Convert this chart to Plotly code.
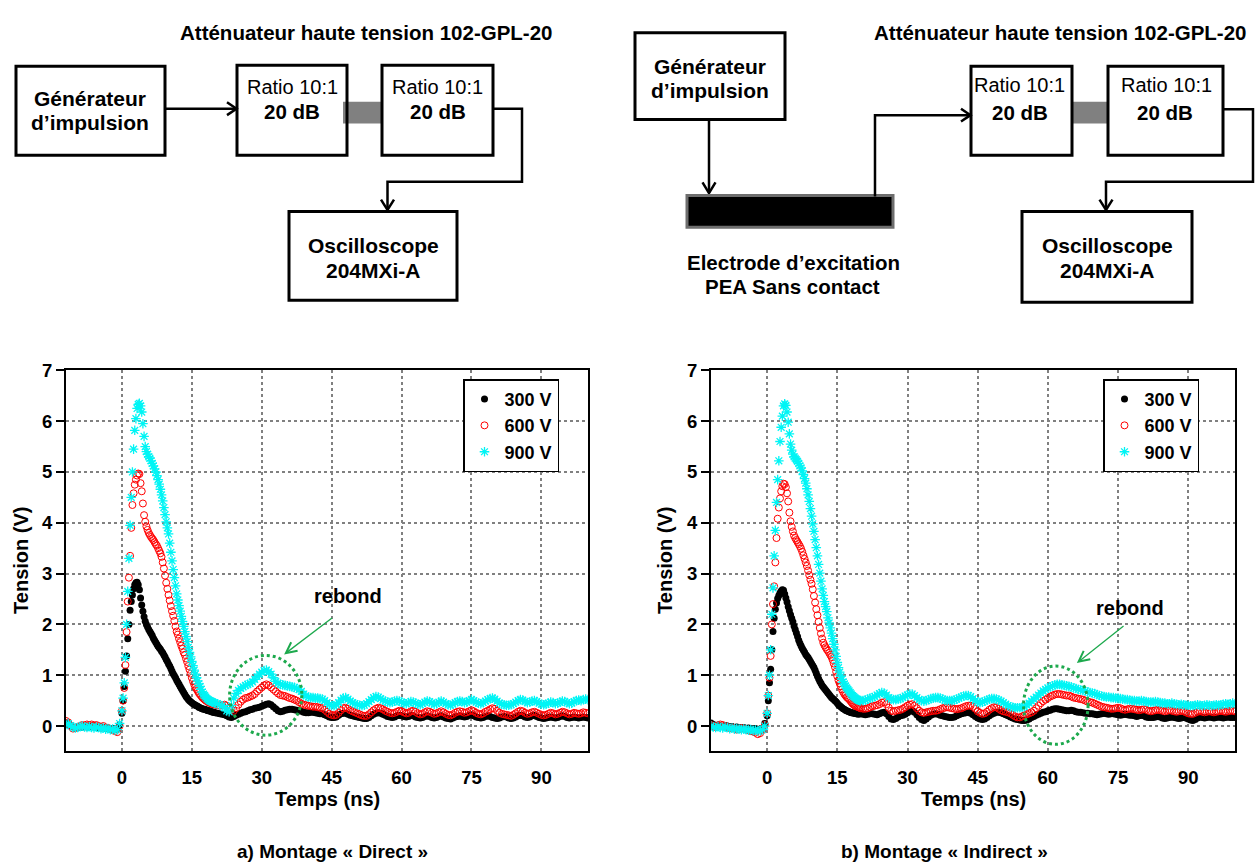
import plotly.graph_objects as go

W, H = 1260, 863
FONT = "Liberation Sans, Arial, sans-serif"

# ---------------- DATA ----------------
# time base (ns): pre-trigger (0.5 ns), pulse (0.25 ns), tail (0.5 ns)
TIME_PRE = [round(-12 + 0.5 * i, 2) for i in range(24)]
TIME_PULSE = [round(0.25 * i, 2) for i in range(80)]
TIME_TAIL = [round(20 + 0.5 * i, 2) for i in range(161)]
TIME = TIME_PRE + TIME_PULSE + TIME_TAIL

SERIES_NAMES = ["300 V", "600 V", "900 V"]

# ---- a) Montage "Direct" ----
D300_PRE = [0.05, 0.03, 0.00, -0.02, -0.03, -0.02, -0.03, -0.02, -0.01, -0.02,
            0.00, -0.01, -0.02, -0.03, -0.02, -0.04, -0.03, -0.05, -0.04, -0.06,
            -0.05, -0.07, -0.06, 0.02]
D300_PULSE = [0.25, 0.50, 0.78, 1.08, 1.38, 1.72, 2.00, 2.28, 2.45, 2.58,
              2.70, 2.78, 2.82, 2.83, 2.78, 2.68, 2.52, 2.38, 2.26, 2.15,
              2.06, 2.00, 1.95, 1.90, 1.86, 1.82, 1.78, 1.73, 1.69, 1.65,
              1.61, 1.57, 1.54, 1.51, 1.47, 1.44, 1.40, 1.36, 1.31, 1.27,
              1.22, 1.18, 1.13, 1.08, 1.03, 0.99, 0.95, 0.90, 0.86, 0.82,
              0.78, 0.74, 0.70, 0.66, 0.62, 0.58, 0.55, 0.52, 0.50, 0.48,
              0.46, 0.44, 0.43, 0.41, 0.40, 0.39, 0.37, 0.36, 0.35, 0.34,
              0.33, 0.33, 0.32, 0.31, 0.30, 0.30, 0.29, 0.28, 0.27, 0.27]
D300_TAIL = [0.26, 0.25, 0.24, 0.23, 0.22, 0.20, 0.18, 0.17, 0.19, 0.21,
             0.23, 0.25, 0.27, 0.28, 0.30, 0.32, 0.33, 0.35, 0.36, 0.37,
             0.39, 0.41, 0.43, 0.44, 0.42, 0.38, 0.34, 0.30, 0.28, 0.29,
             0.31, 0.32, 0.33, 0.33, 0.32, 0.31, 0.30, 0.29, 0.27, 0.26,
             0.26, 0.27, 0.27, 0.26, 0.25, 0.24, 0.24, 0.22, 0.20, 0.18,
             0.17, 0.17, 0.18, 0.21, 0.24, 0.25, 0.25, 0.23, 0.21, 0.20,
             0.19, 0.18, 0.17, 0.16, 0.15, 0.15, 0.17, 0.20, 0.23, 0.25,
             0.26, 0.25, 0.23, 0.21, 0.19, 0.18, 0.17, 0.18, 0.20, 0.21,
             0.20, 0.19, 0.18, 0.19, 0.21, 0.20, 0.18, 0.17, 0.16, 0.17,
             0.19, 0.20, 0.19, 0.17, 0.16, 0.17, 0.19, 0.20, 0.18, 0.16,
             0.15, 0.14, 0.16, 0.18, 0.19, 0.20, 0.19, 0.18, 0.19, 0.21,
             0.22, 0.20, 0.18, 0.17, 0.16, 0.17, 0.19, 0.20, 0.19, 0.17,
             0.16, 0.15, 0.16, 0.18, 0.19, 0.18, 0.16, 0.15, 0.16, 0.18,
             0.20, 0.21, 0.20, 0.18, 0.17, 0.18, 0.20, 0.21, 0.19, 0.17,
             0.16, 0.15, 0.16, 0.17, 0.18, 0.17, 0.16, 0.17, 0.19, 0.20,
             0.19, 0.17, 0.16, 0.17, 0.18, 0.17, 0.16, 0.17, 0.18, 0.17,
             0.16]

D600_PRE = [0.10, 0.07, 0.00, -0.05, -0.04, -0.02, 0.00, 0.02, 0.01, 0.03,
            0.02, 0.03, 0.01, 0.02, 0.00, -0.02, 0.00, -0.03, -0.04, -0.06,
            -0.08, -0.10, -0.12, 0.00]
D600_PULSE = [0.30, 0.50, 0.75, 1.20, 1.85, 2.45, 2.92, 3.35, 3.90, 4.35,
              4.58, 4.75, 4.85, 4.93, 4.97, 4.96, 4.78, 4.62, 4.38, 4.15,
              4.02, 3.93, 3.86, 3.80, 3.76, 3.72, 3.69, 3.66, 3.62, 3.58,
              3.55, 3.50, 3.45, 3.40, 3.33, 3.22, 3.10, 2.96, 2.82, 2.70,
              2.58, 2.47, 2.36, 2.26, 2.17, 2.07, 1.96, 1.86, 1.80, 1.72,
              1.65, 1.58, 1.52, 1.45, 1.40, 1.33, 1.26, 1.18, 1.11, 1.03,
              0.95, 0.88, 0.82, 0.77, 0.73, 0.69, 0.65, 0.62, 0.59, 0.56,
              0.54, 0.52, 0.50, 0.49, 0.47, 0.46, 0.45, 0.44, 0.43, 0.43]
D600_TAIL = [0.42, 0.41, 0.40, 0.41, 0.42, 0.40, 0.36, 0.32, 0.30, 0.35,
             0.42, 0.48, 0.52, 0.55, 0.56, 0.58, 0.60, 0.63, 0.68, 0.72,
             0.76, 0.80, 0.82, 0.80, 0.76, 0.72, 0.68, 0.64, 0.61, 0.60,
             0.59, 0.57, 0.55, 0.54, 0.52, 0.50, 0.47, 0.44, 0.42, 0.41,
             0.40, 0.39, 0.38, 0.38, 0.37, 0.36, 0.35, 0.32, 0.28, 0.24,
             0.22, 0.21, 0.22, 0.26, 0.31, 0.35, 0.36, 0.34, 0.31, 0.29,
             0.27, 0.25, 0.23, 0.21, 0.20, 0.20, 0.23, 0.27, 0.31, 0.34,
             0.36, 0.35, 0.33, 0.30, 0.28, 0.26, 0.25, 0.26, 0.28, 0.30,
             0.29, 0.27, 0.25, 0.26, 0.29, 0.30, 0.28, 0.25, 0.23, 0.24,
             0.27, 0.29, 0.28, 0.26, 0.24, 0.25, 0.27, 0.29, 0.27, 0.24,
             0.22, 0.21, 0.23, 0.26, 0.28, 0.29, 0.28, 0.26, 0.27, 0.29,
             0.31, 0.29, 0.26, 0.24, 0.23, 0.25, 0.28, 0.30, 0.33, 0.35,
             0.34, 0.30, 0.26, 0.24, 0.23, 0.22, 0.21, 0.20, 0.22, 0.25,
             0.28, 0.30, 0.29, 0.26, 0.24, 0.25, 0.27, 0.28, 0.26, 0.24,
             0.22, 0.21, 0.22, 0.24, 0.26, 0.25, 0.23, 0.24, 0.26, 0.28,
             0.27, 0.25, 0.23, 0.24, 0.26, 0.25, 0.24, 0.25, 0.27, 0.26,
             0.25]

D900_PRE = [0.03, 0.05, 0.01, -0.02, -0.04, -0.03, -0.01, 0.00, -0.02, -0.03,
            -0.01, -0.03, -0.04, -0.02, -0.03, -0.05, -0.04, -0.06, -0.05, -0.07,
            -0.06, -0.08, -0.07, 0.05]
D900_PULSE = [0.30, 0.55, 0.85, 1.35, 2.00, 2.65, 3.30, 3.95, 4.50, 5.00,
              5.45, 5.82, 6.05, 6.25, 6.33, 6.35, 6.30, 6.18, 5.95, 5.70,
              5.50, 5.40, 5.35, 5.30, 5.27, 5.22, 5.17, 5.12, 5.06, 5.00,
              4.93, 4.85, 4.76, 4.66, 4.55, 4.43, 4.30, 4.16, 4.02, 3.90,
              3.78, 3.60, 3.42, 3.25, 3.08, 2.92, 2.76, 2.60, 2.48, 2.37,
              2.26, 2.16, 2.06, 1.96, 1.86, 1.76, 1.66, 1.55, 1.45, 1.36,
              1.27, 1.19, 1.10, 1.02, 0.95, 0.89, 0.83, 0.78, 0.72, 0.67,
              0.63, 0.60, 0.57, 0.54, 0.52, 0.50, 0.49, 0.48, 0.47, 0.46]
D900_TAIL = [0.45, 0.44, 0.42, 0.40, 0.36, 0.30, 0.28, 0.40, 0.55, 0.64,
             0.70, 0.74, 0.77, 0.80, 0.82, 0.84, 0.87, 0.92, 0.97, 1.02,
             1.06, 1.09, 1.10, 1.07, 1.02, 0.95, 0.88, 0.84, 0.82, 0.81,
             0.80, 0.79, 0.78, 0.77, 0.76, 0.74, 0.72, 0.68, 0.63, 0.59,
             0.57, 0.56, 0.56, 0.55, 0.55, 0.54, 0.53, 0.50, 0.46, 0.42,
             0.40, 0.40, 0.42, 0.46, 0.51, 0.55, 0.56, 0.53, 0.49, 0.46,
             0.44, 0.42, 0.41, 0.40, 0.41, 0.44, 0.48, 0.52, 0.56, 0.58,
             0.57, 0.54, 0.51, 0.49, 0.47, 0.46, 0.47, 0.49, 0.50, 0.49,
             0.47, 0.45, 0.44, 0.46, 0.48, 0.47, 0.45, 0.43, 0.42, 0.44,
             0.47, 0.49, 0.48, 0.45, 0.43, 0.44, 0.47, 0.49, 0.47, 0.44,
             0.42, 0.41, 0.43, 0.46, 0.48, 0.49, 0.48, 0.46, 0.47, 0.50,
             0.52, 0.50, 0.47, 0.45, 0.44, 0.46, 0.49, 0.52, 0.54, 0.55,
             0.53, 0.49, 0.45, 0.43, 0.42, 0.41, 0.41, 0.42, 0.44, 0.47,
             0.50, 0.52, 0.51, 0.48, 0.46, 0.47, 0.49, 0.50, 0.48, 0.45,
             0.43, 0.42, 0.43, 0.45, 0.47, 0.46, 0.44, 0.45, 0.47, 0.49,
             0.48, 0.46, 0.44, 0.45, 0.48, 0.50, 0.51, 0.50, 0.52, 0.53,
             0.52]

# ---- b) Montage "Indirect" ----
I300_PRE = [0.06, 0.03, 0.01, 0.02, 0.00, -0.01, 0.01, 0.00, -0.02, -0.01,
            -0.03, -0.02, -0.03, -0.04, -0.03, -0.05, -0.04, -0.05, -0.06, -0.05,
            -0.07, -0.06, -0.05, 0.05]
I300_PULSE = [0.20, 0.50, 0.85, 1.12, 1.50, 1.86, 2.12, 2.30, 2.42, 2.51,
              2.57, 2.62, 2.66, 2.68, 2.67, 2.60, 2.52, 2.44, 2.35, 2.27,
              2.19, 2.12, 2.05, 1.97, 1.90, 1.83, 1.76, 1.69, 1.63, 1.58,
              1.53, 1.49, 1.45, 1.41, 1.38, 1.35, 1.31, 1.27, 1.23, 1.19,
              1.15, 1.10, 1.04, 0.98, 0.93, 0.88, 0.84, 0.80, 0.77, 0.74,
              0.71, 0.68, 0.65, 0.62, 0.59, 0.56, 0.54, 0.52, 0.50, 0.48,
              0.45, 0.42, 0.40, 0.38, 0.36, 0.34, 0.33, 0.31, 0.30, 0.29,
              0.28, 0.27, 0.26, 0.26, 0.25, 0.25, 0.24, 0.24, 0.23, 0.24]
I300_TAIL = [0.24, 0.23, 0.22, 0.23, 0.24, 0.24, 0.23, 0.22, 0.24, 0.26,
             0.27, 0.24, 0.19, 0.14, 0.13, 0.15, 0.18, 0.20, 0.21, 0.23,
             0.26, 0.29, 0.30, 0.27, 0.22, 0.17, 0.13, 0.11, 0.14, 0.18,
             0.21, 0.23, 0.24, 0.23, 0.21, 0.20, 0.19, 0.18, 0.17, 0.17,
             0.18, 0.20, 0.22, 0.24, 0.25, 0.26, 0.27, 0.25, 0.22, 0.19,
             0.16, 0.14, 0.13, 0.14, 0.17, 0.20, 0.23, 0.25, 0.27, 0.27,
             0.26, 0.24, 0.22, 0.20, 0.18, 0.16, 0.14, 0.13, 0.12, 0.11,
             0.11, 0.12, 0.14, 0.17, 0.19, 0.21, 0.23, 0.25, 0.27, 0.28,
             0.30, 0.31, 0.33, 0.34, 0.34, 0.33, 0.32, 0.31, 0.30, 0.30,
             0.31, 0.30, 0.28, 0.27, 0.27, 0.26, 0.25, 0.25, 0.24, 0.24,
             0.23, 0.22, 0.23, 0.24, 0.25, 0.24, 0.23, 0.24, 0.24, 0.23,
             0.22, 0.21, 0.22, 0.23, 0.22, 0.21, 0.21, 0.20, 0.19, 0.20,
             0.21, 0.20, 0.18, 0.17, 0.17, 0.17, 0.18, 0.19, 0.18, 0.16,
             0.15, 0.16, 0.17, 0.18, 0.17, 0.16, 0.15, 0.16, 0.17, 0.16,
             0.14, 0.12, 0.11, 0.13, 0.16, 0.18, 0.17, 0.16, 0.17, 0.18,
             0.17, 0.16, 0.17, 0.18, 0.17, 0.16, 0.17, 0.18, 0.17, 0.17,
             0.17]

I600_PRE = [0.02, 0.00, -0.02, 0.01, 0.03, 0.02, 0.00, -0.02, -0.04, -0.03,
            -0.05, -0.07, -0.06, -0.04, -0.05, -0.07, -0.08, -0.10, -0.11, -0.13,
            -0.16, -0.14, -0.08, 0.02]
I600_PULSE = [0.25, 0.60, 0.95, 1.38, 2.00, 2.40, 2.75, 3.22, 3.70, 4.08,
              4.30, 4.48, 4.62, 4.72, 4.77, 4.76, 4.70, 4.58, 4.42, 4.20,
              4.03, 3.92, 3.83, 3.75, 3.70, 3.66, 3.62, 3.58, 3.54, 3.49,
              3.43, 3.36, 3.29, 3.22, 3.15, 3.06, 2.97, 2.88, 2.80, 2.69,
              2.56, 2.43, 2.30, 2.18, 2.05, 1.93, 1.82, 1.72, 1.64, 1.59,
              1.55, 1.51, 1.48, 1.44, 1.40, 1.36, 1.30, 1.23, 1.16, 1.07,
              0.98, 0.90, 0.84, 0.78, 0.72, 0.67, 0.63, 0.60, 0.57, 0.55,
              0.53, 0.50, 0.47, 0.44, 0.42, 0.40, 0.39, 0.38, 0.37, 0.36]
I600_TAIL = [0.35, 0.34, 0.34, 0.35, 0.37, 0.39, 0.40, 0.41, 0.43, 0.46,
             0.47, 0.43, 0.36, 0.30, 0.29, 0.30, 0.31, 0.32, 0.34, 0.37,
             0.40, 0.42, 0.43, 0.40, 0.35, 0.30, 0.27, 0.26, 0.27, 0.28,
             0.29, 0.30, 0.30, 0.31, 0.33, 0.35, 0.36, 0.37, 0.36, 0.35,
             0.34, 0.33, 0.34, 0.35, 0.37, 0.39, 0.40, 0.40, 0.38, 0.34,
             0.29, 0.26, 0.24, 0.25, 0.28, 0.32, 0.35, 0.37, 0.37, 0.34,
             0.31, 0.29, 0.28, 0.27, 0.25, 0.22, 0.19, 0.17, 0.17, 0.19,
             0.21, 0.23, 0.25, 0.27, 0.30, 0.35, 0.40, 0.45, 0.49, 0.52,
             0.55, 0.58, 0.60, 0.62, 0.63, 0.63, 0.62, 0.61, 0.60, 0.60,
             0.58, 0.56, 0.55, 0.54, 0.53, 0.52, 0.50, 0.48, 0.47, 0.46,
             0.44, 0.42, 0.40, 0.38, 0.37, 0.36, 0.35, 0.34, 0.34, 0.35,
             0.36, 0.35, 0.33, 0.32, 0.33, 0.34, 0.34, 0.33, 0.32, 0.31,
             0.32, 0.33, 0.32, 0.30, 0.29, 0.30, 0.31, 0.32, 0.31, 0.30,
             0.29, 0.30, 0.31, 0.30, 0.29, 0.28, 0.29, 0.30, 0.29, 0.27,
             0.25, 0.24, 0.24, 0.26, 0.28, 0.29, 0.28, 0.27, 0.28, 0.29,
             0.28, 0.27, 0.28, 0.29, 0.30, 0.29, 0.28, 0.29, 0.30, 0.30,
             0.29]

I900_PRE = [0.00, -0.02, -0.03, -0.01, -0.03, -0.04, -0.02, -0.03, -0.05, -0.04,
            -0.06, -0.05, -0.06, -0.07, -0.06, -0.07, -0.08, -0.07, -0.09, -0.08,
            -0.10, -0.09, -0.07, 0.00]
I900_PULSE = [0.25, 0.60, 1.00, 1.50, 2.20, 2.72, 3.35, 3.85, 4.40, 4.85,
              5.22, 5.60, 5.88, 6.10, 6.30, 6.34, 6.31, 6.18, 5.98, 5.75,
              5.55, 5.43, 5.35, 5.30, 5.27, 5.24, 5.21, 5.17, 5.12, 5.08,
              5.02, 4.95, 4.87, 4.78, 4.67, 4.55, 4.42, 4.28, 4.13, 3.98,
              3.83, 3.67, 3.51, 3.35, 3.18, 3.01, 2.85, 2.70, 2.57, 2.45,
              2.35, 2.25, 2.13, 2.03, 1.93, 1.83, 1.72, 1.61, 1.50, 1.37,
              1.25, 1.15, 1.06, 0.98, 0.92, 0.87, 0.83, 0.79, 0.75, 0.72,
              0.69, 0.66, 0.63, 0.60, 0.58, 0.56, 0.54, 0.52, 0.51, 0.50]
I900_TAIL = [0.50, 0.50, 0.51, 0.53, 0.55, 0.56, 0.58, 0.61, 0.64, 0.66,
             0.65, 0.61, 0.56, 0.53, 0.52, 0.52, 0.53, 0.54, 0.56, 0.59,
             0.61, 0.63, 0.63, 0.60, 0.56, 0.52, 0.50, 0.49, 0.50, 0.52,
             0.54, 0.55, 0.56, 0.56, 0.55, 0.53, 0.51, 0.50, 0.50, 0.50,
             0.51, 0.53, 0.55, 0.57, 0.59, 0.60, 0.60, 0.58, 0.54, 0.50,
             0.47, 0.46, 0.47, 0.49, 0.51, 0.53, 0.54, 0.54, 0.53, 0.51,
             0.49, 0.46, 0.43, 0.40, 0.38, 0.37, 0.36, 0.36, 0.36, 0.37,
             0.38, 0.41, 0.45, 0.49, 0.53, 0.57, 0.61, 0.65, 0.69, 0.72,
             0.75, 0.77, 0.79, 0.81, 0.82, 0.82, 0.81, 0.80, 0.79, 0.78,
             0.77, 0.75, 0.74, 0.72, 0.71, 0.70, 0.69, 0.67, 0.66, 0.65,
             0.64, 0.62, 0.60, 0.59, 0.58, 0.57, 0.57, 0.56, 0.56, 0.55,
             0.55, 0.54, 0.53, 0.52, 0.52, 0.51, 0.50, 0.50, 0.49, 0.49,
             0.50, 0.49, 0.48, 0.47, 0.47, 0.47, 0.48, 0.47, 0.46, 0.45,
             0.45, 0.44, 0.44, 0.45, 0.44, 0.43, 0.42, 0.43, 0.42, 0.41,
             0.41, 0.40, 0.40, 0.41, 0.42, 0.41, 0.40, 0.41, 0.42, 0.41,
             0.40, 0.41, 0.42, 0.41, 0.42, 0.43, 0.44, 0.43, 0.44, 0.45,
             0.44]

DIRECT = [D300_PRE + D300_PULSE + D300_TAIL,
          D600_PRE + D600_PULSE + D600_TAIL,
          D900_PRE + D900_PULSE + D900_TAIL]
INDIRECT = [I300_PRE + I300_PULSE + I300_TAIL,
            I600_PRE + I600_PULSE + I600_TAIL,
            I900_PRE + I900_PULSE + I900_TAIL]

X_TICKS = [0, 15, 30, 45, 60, 75, 90]
Y_TICKS = [0, 1, 2, 3, 4, 5, 6, 7]
Y_MINOR = [0.5, 1.5, 2.5, 3.5, 4.5, 5.5, 6.5]

# ---------------- STYLE ----------------
MARKERS = [
    dict(symbol="circle", size=7, color="black"),
    dict(symbol="circle-open", size=7, color="#ff0000", line=dict(width=1, color="#ff0000")),
    dict(symbol="asterisk-open", size=8, color="#00f5f5", line=dict(width=1.3, color="#00f5f5")),
]
GREEN = "#1da94d"


def px(x):
    return x / W


def py(y):
    return 1 - y / H


fig = go.Figure()

for i, name in enumerate(SERIES_NAMES):
    fig.add_trace(go.Scatter(x=TIME, y=DIRECT[i], mode="markers", name=name,
                             marker=MARKERS[i], xaxis="x", yaxis="y", legend="legend"))
for i, name in enumerate(SERIES_NAMES):
    fig.add_trace(go.Scatter(x=TIME, y=INDIRECT[i], mode="markers", name=name,
                             marker=MARKERS[i], xaxis="x2", yaxis="y2", legend="legend2"))

tickfont = dict(family=FONT, size=18.5, color="black", weight="bold")


def xax(domain, anchor):
    return dict(domain=domain, anchor=anchor, range=[-12, 100], tickvals=X_TICKS, showline=True,
                linecolor="black", linewidth=2, mirror=True, ticks="outside", ticklen=8,
                tickcolor="rgba(0,0,0,0)", showgrid=True, gridcolor="#808080",
                griddash="dot", gridwidth=1.5, zeroline=False, tickfont=tickfont)


def yax(domain, anchor):
    return dict(domain=domain, anchor=anchor, range=[-0.5, 7], tickvals=Y_TICKS, showline=True,
                linecolor="black", linewidth=2, mirror=True, ticks="outside", ticklen=8,
                tickwidth=2, tickcolor="black", showgrid=True, gridcolor="#808080",
                griddash="dot", gridwidth=1.5, zeroline=False, tickfont=tickfont)


def minor_ax(over, anchor):
    return dict(overlaying=over, anchor=anchor, side="right", range=[-0.5, 7],
                tickvals=Y_MINOR, ticks="inside", ticklen=6, tickwidth=1.5,
                tickcolor="black", showticklabels=False, showgrid=False,
                zeroline=False, showline=False)


YDOM = [py(750), py(364)]
legend_common = dict(xanchor="left", yanchor="top", bgcolor="white", bordercolor="black",
                     borderwidth=1.5, font=dict(family=FONT, size=18, color="black", weight="bold"),
                     itemwidth=30, tracegroupgap=0)

fig.update_layout(
    width=W, height=H, margin=dict(l=0, r=0, t=0, b=0),
    paper_bgcolor="white", plot_bgcolor="white",
    xaxis=xax([px(66), px(588)], "y"), yaxis=yax(YDOM, "x"),
    xaxis2=xax([px(711), px(1235)], "y2"), yaxis2=yax(YDOM, "x2"),
    yaxis3=minor_ax("y", "x"), yaxis4=minor_ax("y2", "x2"),
    legend=dict(x=px(463), y=py(373), **legend_common),
    legend2=dict(x=px(1103), y=py(373), **legend_common),
    showlegend=True,
)

ann = []


def text(x, y, s, size=20, bold=True, ref=("paper", "paper"), angle=0):
    ann.append(dict(x=px(x) if ref[0] == "paper" else x, y=py(y) if ref[1] == "paper" else y,
                    xref=ref[0], yref=ref[1], text=s, showarrow=False, textangle=angle,
                    xanchor="center", yanchor="middle",
                    font=dict(family=FONT, size=size, color="black",
                              weight="bold" if bold else "normal")))


# axis titles and captions
text(21, 557, "Tension (V)", 20, angle=-90)
text(665, 557, "Tension (V)", 20, angle=-90)
text(327, 798, "Temps (ns)", 20)
text(973, 798, "Temps (ns)", 20)
text(332, 851, "a) Montage « Direct »", 19)
text(944, 851, "b) Montage « Indirect »", 19)

# "rebond" annotations (data coordinates)
text(48.6, 2.56, "rebond", 20, ref=("x", "y"))
text(77.6, 2.33, "rebond", 20, ref=("x2", "y2"))
ann.append(dict(x=34.8, y=1.41, ax=45.4, ay=2.15, xref="x", yref="y", axref="x", ayref="y",
                showarrow=True, arrowhead=5, arrowsize=1.6, arrowwidth=1.3, arrowcolor=GREEN, text=""))
ann.append(dict(x=66.2, y=1.24, ax=76.5, ay=1.99, xref="x2", yref="y2", axref="x2", ayref="y2",
                showarrow=True, arrowhead=5, arrowsize=1.6, arrowwidth=1.3, arrowcolor=GREEN, text=""))

# ---------------- block diagrams ----------------
shapes = []


def rect(x0, y0, x1, y1, lw=3, line="black", fill="rgba(0,0,0,0)"):
    shapes.append(dict(type="rect", xref="paper", yref="paper", x0=px(x0), x1=px(x1),
                       y0=py(y1), y1=py(y0), line=dict(color=line, width=lw), fillcolor=fill))


def path(points, lw=2.5):
    d = "M " + " L ".join(f"{px(a):.5f},{py(b):.5f}" for a, b in points)
    shapes.append(dict(type="path", xref="paper", yref="paper", path=d,
                       line=dict(color="black", width=lw)))


# left diagram
text(366, 22, "Atténuateur haute tension 102-GPL-20", 20.5)
rect(343, 92, 383, 114, lw=0, line="#808080", fill="#808080")
rect(16, 56, 165, 146)
text(90, 89, "Générateur", 21)
text(90, 113, "d’impulsion", 21)
path([(165, 99), (236, 99)])
path([(227, 92.5), (236.5, 99), (227, 105.5)])
rect(237, 55, 347, 146)
text(292, 77, "Ratio 10:1", 20, bold=False)
text(292, 102, "20 dB", 20.5)
rect(382, 55, 493, 146)
text(437.5, 77, "Ratio 10:1", 20, bold=False)
text(437.5, 102, "20 dB", 20.5)
path([(493, 99), (522, 99), (522, 173), (387.5, 173), (387.5, 201)])
path([(381, 191), (387.5, 201.5), (394, 191)])
rect(289, 203, 457, 293)
text(373, 237.5, "Oscilloscope", 21)
text(373, 263, "204MXi-A", 21)

# right diagram
text(1060, 22, "Atténuateur haute tension 102-GPL-20", 20.5)
rect(635, 22, 785, 110)
text(710, 56, "Générateur", 21)
text(710, 81, "d’impulsion", 21)
path([(709, 110), (709, 184)])
path([(702.5, 173.5), (709, 184.5), (715.5, 173.5)])
rect(687, 187, 893, 219, lw=3, line="#6e6e6e", fill="black")
path([(875, 188), (875, 105.5), (970, 105.5)])
path([(961, 99), (970.5, 105.5), (961, 112)])
rect(1072, 92, 1108, 114, lw=0, line="#808080", fill="#808080")
rect(971, 56, 1072, 146)
text(1019, 75, "Ratio 10:1", 20, bold=False)
text(1020, 103, "20 dB", 20.5)
rect(1108, 56, 1223, 146)
text(1166, 75, "Ratio 10:1", 20, bold=False)
text(1165, 103, "20 dB", 20.5)
path([(1223, 99.5), (1253, 99.5), (1253, 173), (1106, 173), (1106, 201)])
path([(1099.5, 191), (1106, 201.5), (1112.5, 191)])
rect(1022, 203, 1192, 295)
text(1107, 237.5, "Oscilloscope", 21)
text(1107, 263, "204MXi-A", 21)
text(793, 255, "Electrode d’excitation", 20.5)
text(792, 279, "PEA Sans contact", 20.5)

# rebond ellipses (dotted green)
shapes.append(dict(type="circle", xref="x", yref="y", x0=23.1, x1=38.6, y0=-0.18, y1=1.39,
                   line=dict(color=GREEN, width=3, dash="dot")))
shapes.append(dict(type="circle", xref="x2", yref="y2", x0=54.8, x1=68.6, y0=-0.36, y1=1.18,
                   line=dict(color=GREEN, width=3, dash="dot")))

fig.update_layout(annotations=ann, shapes=shapes)
fig.write_html("out.html")
